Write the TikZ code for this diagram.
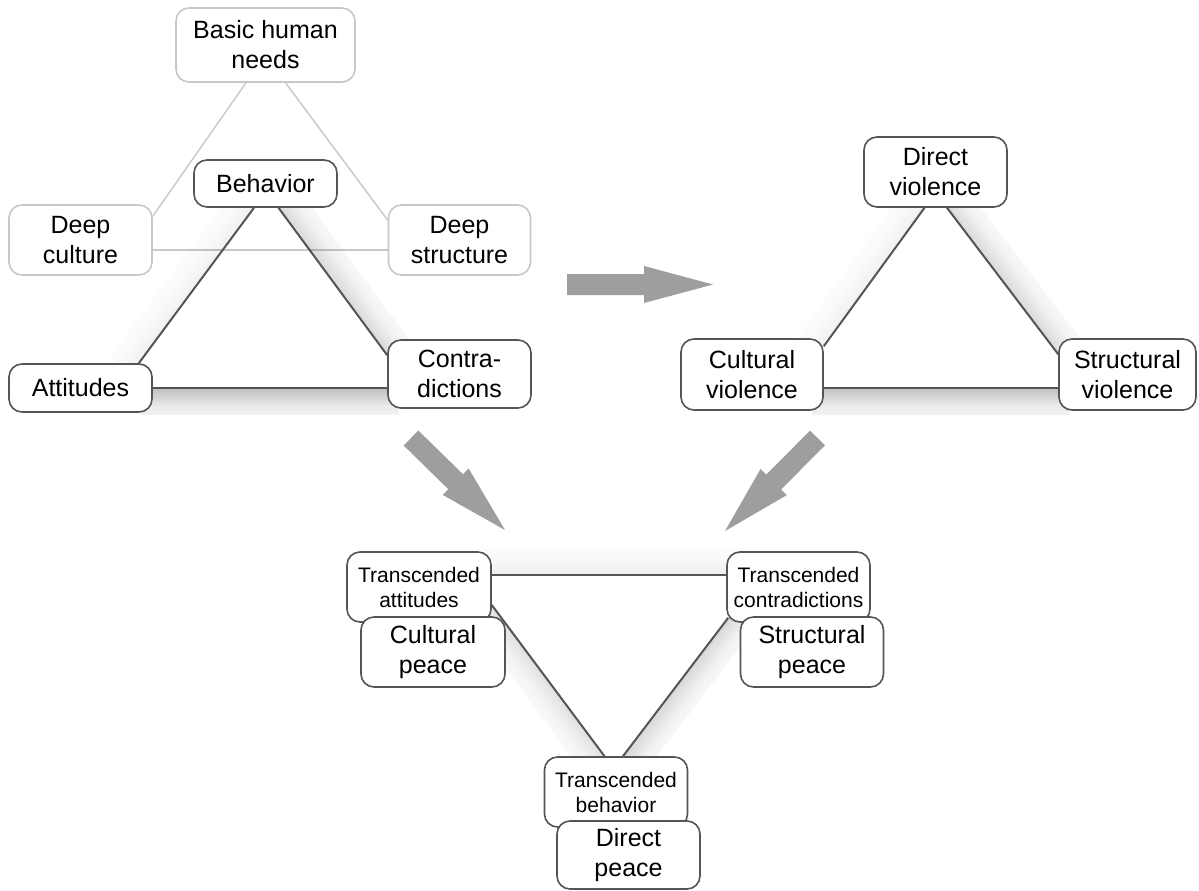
\documentclass[tikz,border=0pt]{standalone}
\usepackage{fontspec}
\setmainfont{Liberation Sans}
\usetikzlibrary{calc,backgrounds,fadings}

\definecolor{dk}{HTML}{555555}
\definecolor{lt}{HTML}{C8C8C8}
\definecolor{ag}{HTML}{9D9EA0}

\newcommand\bigtxt{\fontsize{25pt}{30pt}\selectfont}
\newcommand\smalltxt{\fontsize{21pt}{25pt}\selectfont}

% opacity profile of the edge shadows: opaque at the bottom, gone at the top
\pgfdeclareverticalshading{shgrad}{100bp}{color(0bp)=(pgftransparent!0);
  color(12bp)=(pgftransparent!25); color(32bp)=(pgftransparent!60);
  color(60bp)=(pgftransparent!87); color(100bp)=(pgftransparent!100)}
\pgfdeclarefading{shfade}{\pgfuseshading{shgrad}}

% soft shadow on the left-hand side of the segment #1 -> #2, strength #3
\newcommand\edgeshade[3]{%
  \path let \p1=(#1), \p2=(#2) in \pgfextra{%
    \pgfmathsetmacro\shAng{atan2(\y2-\y1,\x2-\x1)}%
    \pgfmathsetmacro\shLen{veclen(\x2-\x1,\y2-\y1)}%
    \xdef\shAng{\shAng}\xdef\shLen{\shLen}\xdef\shX{\x1}\xdef\shY{\y1}};
  \begin{scope}[transform canvas={shift={(\shX,\shY)}, rotate=\shAng}]
    \clip (-12pt,0pt) rectangle ({\shLen*1pt+12pt},30pt);
    \fill[black, fill opacity=#3, path fading=shfade]
      (-12pt,-4pt) rectangle ({\shLen*1pt+12pt},27pt);
  \end{scope}}

% grey block arrow from #1 (tail) to #2 (tip)
\newcommand\blockarrow[2]{%
  \coordinate (hb) at ($(#2)!69pt!(#1)$);
  \fill[ag] ($(#1)!10.5pt!90:(#2)$) -- ($(hb)!10.5pt!90:(#2)$)
    -- ($(hb)!18.5pt!90:(#2)$) -- (#2) -- ($(hb)!18.5pt!-90:(#2)$)
    -- ($(hb)!10.5pt!-90:(#2)$) -- ($(#1)!10.5pt!-90:(#2)$) -- cycle;
}

\begin{document}
\begin{tikzpicture}[x=1pt,y=-1pt,
  box/.style={draw=dk, line width=1.6pt, rounded corners=13pt, fill=white,
    align=center, inner sep=0pt, font=\bigtxt, text=black},
  lbox/.style={box, draw=lt},
  sbox/.style={box, font=\smalltxt},
  edge/.style={draw=dk, line width=2pt},
  ledge/.style={draw=lt, line width=1.4pt}]

\useasboundingbox (0,0) rectangle (1199,891);

% ---- conflict triangle with its deep layer ----
\node[lbox, minimum width=179pt, minimum height=74pt] (bhn) at (265.5,45) {Basic human\\needs};
\node[box,  minimum width=143pt, minimum height=47pt] (beh) at (265.5,183.5) {Behavior};
\node[lbox, minimum width=143pt, minimum height=70pt] (dc)  at (80.5,240) {Deep\\culture};
\node[lbox, minimum width=142pt, minimum height=70pt] (ds)  at (459.5,240) {Deep\\structure};
\node[box,  minimum width=143pt, minimum height=48pt] (att) at (80.5,388) {Attitudes};
\node[box,  minimum width=143pt, minimum height=68pt] (con) at (459.5,374) {Contra-\\dictions};

% ---- violence triangle ----
\node[box, minimum width=143pt, minimum height=70pt] (dv) at (935.5,172) {Direct\\violence};
\node[box, minimum width=142pt, minimum height=71pt] (cv) at (752,374.5) {Cultural\\violence};
\node[box, minimum width=137pt, minimum height=71pt] (sv) at (1127.5,374.5) {Structural\\violence};

% ---- peace triangle ----
\node[sbox, minimum width=144pt, minimum height=70pt] (ta) at (419,587) {Transcended\\attitudes};
\node[box,  minimum width=144pt, minimum height=70pt] (cp) at (433,652) {Cultural\\peace};
\node[sbox, minimum width=143pt, minimum height=70pt] (tc) at (798.5,587) {Transcended\\contradictions};
\node[box,  minimum width=143pt, minimum height=70pt] (sp) at (812,652) {Structural\\peace};
\node[sbox, minimum width=143pt, minimum height=70pt] (tb) at (616,792) {Transcended\\behavior};
\node[box,  minimum width=143pt, minimum height=68pt] (dp) at (628.5,855) {Direct\\peace};

% edge end points on the boxes
\coordinate (l1) at ($(att.north east)+(-14,0)$);
\coordinate (l2) at ($(beh.south)+(-11.5,0)$);
\coordinate (l3) at ($(beh.south)+(13,0)$);
\coordinate (l4) at ($(con.north west)+(0,16)$);
\coordinate (l5) at (att.east -| con.west);

\coordinate (r1) at ($(cv.north east)+(0,8)$);
\coordinate (r2) at ($(dv.south)+(-11,0)$);
\coordinate (r3) at ($(dv.south)+(11.5,0)$);
\coordinate (r4) at ($(sv.north west)+(0,16)$);
\coordinate (r5) at ($(cv.east)+(0,13)$);
\coordinate (r6) at ($(sv.west)+(0,13)$);

\coordinate (p1) at ($(ta.east)+(0,-12)$);
\coordinate (p2) at ($(tc.west)+(0,-12)$);
\coordinate (p3) at ($(tc.south west)+(2,-5)$);
\coordinate (p4) at ($(tb.north)+(7,0)$);
\coordinate (p5) at ($(tb.north)+(-11.5,0)$);
\coordinate (p6) at ($(ta.east)+(0,18)$);

% block arrows
\coordinate (a1t) at (567,284.5);  \coordinate (a1h) at (713,284.5);
\coordinate (a2t) at (411,438);    \coordinate (a2h) at (505,530);
\coordinate (a3t) at (817.5,438);  \coordinate (a3h) at (725,531);

\begin{pgfonlayer}{background}
  \fill[white] (0,0) rectangle (1199,891);

  % deep layer
  \draw[ledge] ($(bhn.south)+(-19.5,0)$) -- ($(dc.north east)+(0,12)$);
  \draw[ledge] ($(bhn.south)+(20,0)$) -- ($(ds.north west)+(0,16)$);
  \draw[ledge] ($(dc.east)+(0,10)$) -- ($(ds.west)+(0,10)$);

  % shadows
  \edgeshade{l1}{l2}{0.14}
  \edgeshade{l3}{l4}{0.36}
  \edgeshade{l5}{att.east}{0.62}
  \edgeshade{r1}{r2}{0.14}
  \edgeshade{r3}{r4}{0.36}
  \edgeshade{r6}{r5}{0.62}
  \edgeshade{p1}{p2}{0.16}
  \edgeshade{p3}{p4}{0.38}
  \edgeshade{p5}{p6}{0.3}

  % triangle edges
  \draw[edge] (l1) -- (l2);
  \draw[edge] (l3) -- (l4);
  \draw[edge] (att.east) -- (l5);
  \draw[edge] (r1) -- (r2);
  \draw[edge] (r3) -- (r4);
  \draw[edge] (r5) -- (r6);
  \draw[edge] (p1) -- (p2);
  \draw[edge] (p3) -- (p4);
  \draw[edge] (p5) -- (p6);
\end{pgfonlayer}

\blockarrow{a1t}{a1h}
\blockarrow{a2t}{a2h}
\blockarrow{a3t}{a3h}
\end{tikzpicture}
\end{document}
